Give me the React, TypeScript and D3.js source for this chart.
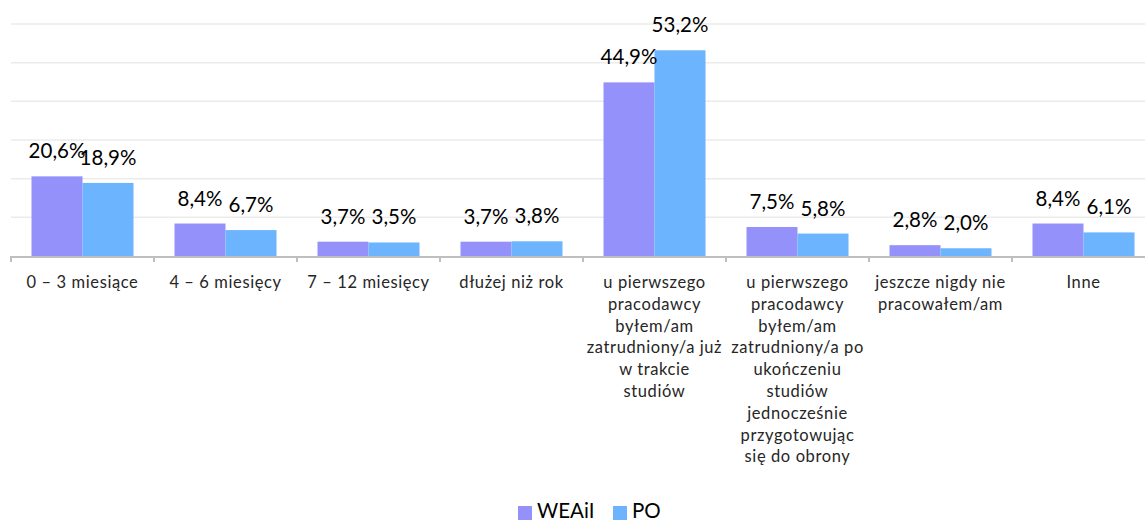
import React from "react";
import * as d3 from "d3";

const categories: string[][] = [
  ["0 – 3 miesiące"],
  ["4 – 6 miesięcy"],
  ["7 – 12 miesięcy"],
  ["dłużej niż rok"],
  ["u pierwszego", "pracodawcy", "byłem/am", "zatrudniony/a już", "w trakcie", "studiów"],
  ["u pierwszego", "pracodawcy", "byłem/am", "zatrudniony/a po", "ukończeniu", "studiów", "jednocześnie", "przygotowując", "się do obrony"],
  ["jeszcze nigdy nie", "pracowałem/am"],
  ["Inne"],
];
const seriesNames = ["WEAiI", "PO"];
const weaiiValues = [20.6, 8.4, 3.7, 3.7, 44.9, 7.5, 2.8, 8.4];
const poValues = [18.9, 6.7, 3.5, 3.8, 53.2, 5.8, 2.0, 6.1];
const gridTicks = [10, 20, 30, 40, 50, 60];

const colors = ["#9491FB", "#6CB4FE"];
const W = 1145;
const H = 521;
const FONT = "Lato, 'Open Sans', sans-serif";

export default function App() {
  const keys = categories.map((_, i) => String(i));
  const x = d3.scaleBand<string>().domain(keys).range([11, 11 + 8 * 143]).padding(0);
  const bw = x.bandwidth();
  const xi = d3.scaleBand<string>().domain(seriesNames).range([0, bw]).paddingInner(0).paddingOuter(0.402);
  const y = d3.scaleLinear().domain([0, 60]).range([256, 24]);
  const series = [weaiiValues, poValues];
  const fmt = (v: number) => v.toFixed(1).replace(".", ",") + "%";
  const ticksX = [...keys.map((k) => x(k) as number), 11 + 8 * 143];

  return (
    <svg width={W} height={H} style={{ position: "absolute", left: 0, top: 0, background: "#fff" }} fontFamily={FONT}>
      {gridTicks.map((t) => (
        <line key={t} x1={11} x2={W} y1={y(t)} y2={y(t)} stroke="#EBEBEB" strokeWidth={1.5} />
      ))}
      {series.map((vals, s) =>
        vals.map((v, i) => {
          const bx = (x(keys[i]) as number) + (xi(seriesNames[s]) as number);
          return (
            <rect key={`${s}-${i}`} x={bx} y={y(v)} width={xi.bandwidth()} height={y(0) - y(v)} fill={colors[s]} />
          );
        })
      )}
      <line x1={11} x2={W} y1={y(0) + 1} y2={y(0) + 1} stroke="#BFBFBF" strokeWidth={2} />
      {ticksX.map((tx, i) => (
        <line key={i} x1={tx} x2={tx} y1={y(0)} y2={y(0) + 6} stroke="#BFBFBF" strokeWidth={2} />
      ))}
      {series.map((vals, s) =>
        vals.map((v, i) => {
          const cx = (x(keys[i]) as number) + (xi(seriesNames[s]) as number) + xi.bandwidth() / 2;
          return (
            <text key={`l${s}-${i}`} x={cx} y={y(v) - 18} textAnchor="middle" fontSize={20.5} fill="#000">
              {fmt(v)}
            </text>
          );
        })
      )}
      {categories.map((lines, i) => {
        const cx = (x(keys[i]) as number) + bw / 2;
        return (
          <text key={`c${i}`} textAnchor="middle" fontSize={16.5} letterSpacing={0.6} fill="#262626">
            {lines.map((ln, j) => (
              <tspan key={j} x={cx} y={288 + j * 21.8}>
                {ln}
              </tspan>
            ))}
          </text>
        );
      })}
      <g>
        <rect x={518} y={506} width={14} height={14} fill={colors[0]} />
        <text x={537} y={518} fontSize={20.5} fill="#000">{seriesNames[0]}</text>
        <rect x={613} y={506} width={14} height={14} fill={colors[1]} />
        <text x={632} y={518} fontSize={20.5} fill="#000">{seriesNames[1]}</text>
      </g>
    </svg>
  );
}
